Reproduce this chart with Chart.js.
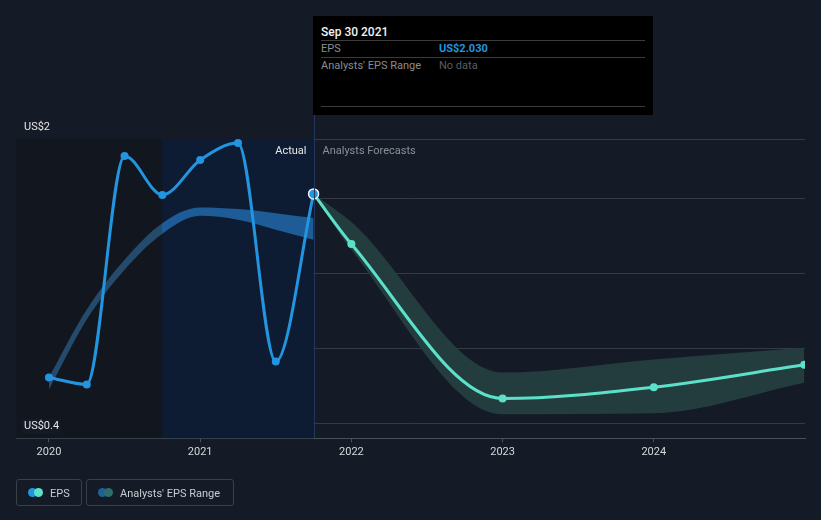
<!DOCTYPE html>
<html>
<head>
<meta charset="utf-8">
<script src="https://cdn.jsdelivr.net/npm/chart.js@4.4.1/dist/chart.umd.min.js"></script>
<style>
  html, body { margin: 0; padding: 0; background: #151b26; width: 821px; height: 520px; overflow: hidden; font-family: Roboto, "Noto Sans", sans-serif; }
  #wrap { position: relative; width: 821px; height: 520px; }
  canvas { position: absolute; left: 0; top: 0; }
  .tip { position: absolute; left: 313px; top: 16px; width: 340px; height: 99px; background: #000; }
  .tip .title { position: absolute; left: 8px; top: 16px; transform: translateY(-50%); color: #f2f2f2; font-size: 12px; font-weight: 500; white-space: nowrap; }
  .tip .hr { position: absolute; left: 8px; width: 324px; height: 1px; background: #3b3b3b; }
  .tip .lab { position: absolute; left: 8px; font-size: 11px; color: #8a8d92; white-space: nowrap; transform: translateY(-50%); }
  .tip .val { position: absolute; left: 126px; font-size: 11px; white-space: nowrap; transform: translateY(-50%); }
  .leg { position: absolute; top: 479px; height: 27px; border: 1px solid #3a404a; border-radius: 3px; box-sizing: border-box; }
  .leg .txt { position: absolute; top: 50%; transform: translateY(-50%); font-size: 11px; color: #c9ccd1; white-space: nowrap; }
  .dot { position: absolute; top: 8px; width: 9px; height: 9px; border-radius: 50%; }
</style>
</head>
<body>
<div id="wrap">
  <canvas id="c" width="821" height="520"></canvas>
  <div class="tip">
    <div class="title">Sep 30 2021</div>
    <div class="hr" style="top:24px"></div>
    <div class="lab" style="top:32px">EPS</div>
    <div class="val" style="top:32px;color:#2394df;font-weight:700">US$2.030</div>
    <div class="hr" style="top:41px"></div>
    <div class="lab" style="top:49px">Analysts' EPS Range</div>
    <div class="val" style="top:49px;color:#5a5d62">No data</div>
    <div class="hr" style="top:90px"></div>
  </div>
  <div class="leg" style="left:16px;width:66px">
    <div class="dot" style="left:11px;background:#2394df"></div>
    <div class="dot" style="left:17px;background:#5ce0c9"></div>
    <div class="txt" style="left:33px">EPS</div>
  </div>
  <div class="leg" style="left:86px;width:148px">
    <div class="dot" style="left:11px;background:#1f5f94"></div>
    <div class="dot" style="left:17px;background:#2f6d6b"></div>
    <div class="txt" style="left:33px">Analysts' EPS Range</div>
  </div>
</div>
<script>
// ---- data ----
const actualDates = [2020.0, 2020.25, 2020.5, 2020.75, 2021.0, 2021.25, 2021.5, 2021.75];
const actualEps   = [0.726, 0.676, 2.299, 2.023, 2.271, 2.391, 0.839, 2.030];
const pastRangeHigh = [0.726, 1.208, 1.562, 1.822, 1.933, 1.922, 1.893, 1.858];
const pastRangeLow  = [0.641, 1.137, 1.491, 1.747, 1.874, 1.846, 1.775, 1.704];

const forecastDates = [2021.75, 2022.0, 2023.0, 2024.0, 2024.995];
const forecastEps   = [2.030, 1.674, 0.577, 0.657, 0.816];
const forecastHigh  = [2.030, 1.830, 0.761, 0.854, 0.937];
const forecastLow   = [2.030, 1.633, 0.464, 0.471, 0.688];

const xTickYears = [2020, 2021, 2022, 2023, 2024];
const yGridValues = [0.4, 0.9315, 1.463, 1.994, 2.42];
const yLabels = [{ value: 2.42, text: 'US$2', pos: 'above' }, { value: 0.4, text: 'US$0.4', pos: 'on' }];
const xMin = 2019.782, xMax = 2025.0;
const yMin = 0.2937, yMax = 2.42;
const lastYearStart = 2020.75, forecastStart = 2021.75;

const pts = (xs, ys) => xs.map((x, i) => ({ x, y: ys[i] }));

const bgPlugin = {
  id: 'bgPlugin',
  beforeDatasetsDraw(chart) {
    const { ctx, chartArea: a, scales: { x } } = chart;
    ctx.save();
    const x1 = x.getPixelForValue(lastYearStart);
    const x2 = x.getPixelForValue(forecastStart);
    ctx.fillStyle = '#12171f';
    ctx.fillRect(a.left, a.top, x1 - a.left, a.bottom - a.top);
    ctx.fillStyle = '#0d1c32';
    ctx.fillRect(x1, a.top, x2 - x1, a.bottom - a.top);
    ctx.restore();
  },
  beforeDraw(chart) {
    const { ctx } = chart;
    ctx.save();
    ctx.fillStyle = '#151b26';
    ctx.fillRect(0, 0, chart.width, chart.height);
    ctx.restore();
  },
  afterDraw(chart) {
    const { ctx, chartArea: a, scales: { x, y } } = chart;
    ctx.save();
    const x2 = Math.round(x.getPixelForValue(forecastStart)) + 0.5;
    ctx.strokeStyle = '#22375a';
    ctx.lineWidth = 1;
    ctx.beginPath(); ctx.moveTo(x2, 115); ctx.lineTo(x2, a.bottom); ctx.stroke();
    ctx.font = '11px Roboto';
    ctx.textBaseline = 'middle';
    ctx.textAlign = 'right';
    ctx.fillStyle = '#e8e8e8';
    ctx.fillText('Actual', x2 - 8, a.top + 12.5);
    ctx.textAlign = 'left';
    ctx.fillStyle = '#8b8f96';
    ctx.fillText('Analysts Forecasts', x2 + 8, a.top + 12.5);
    ctx.font = '11px Roboto';
    yLabels.forEach(l => {
      const py = y.getPixelForValue(l.value);
      const ty = l.pos === 'above' ? py - 12 : py + 3;
      const w = ctx.measureText(l.text).width;
      if (l.pos === 'on') {
        ctx.fillStyle = '#151b26';
        ctx.fillRect(a.left + 6, ty - 7, w + 4, 14);
      }
      ctx.fillStyle = '#e4e4e4';
      ctx.textAlign = 'left';
      ctx.fillText(l.text, a.left + 8, ty);
    });
    ctx.restore();
  }
};

function pastBandColor(context) {
  const chart = context.chart;
  const a = chart.chartArea;
  if (!a) return '#1d5c96';
  const x = chart.scales.x;
  const p = (x.getPixelForValue(lastYearStart) - a.left) / (a.right - a.left);
  const g = chart.ctx.createLinearGradient(a.left, 0, a.right, 0);
  g.addColorStop(0, '#244a6c');
  g.addColorStop(Math.max(0, p - 0.0001), '#244a6c');
  g.addColorStop(p, '#1d5c96');
  g.addColorStop(1, '#1d5c96');
  return g;
}

new Chart(document.getElementById('c'), {
  type: 'line',
  data: {
    datasets: [
      { label: 'pastHigh', data: pts(actualDates, pastRangeHigh), borderWidth: 0, pointRadius: 0, cubicInterpolationMode: 'monotone', fill: false, order: 5, borderColor: 'rgba(0,0,0,0)' },
      { label: 'pastLow', data: pts(actualDates, pastRangeLow), borderWidth: 0, pointRadius: 0, cubicInterpolationMode: 'monotone', fill: '-1', backgroundColor: pastBandColor, order: 5, borderColor: 'rgba(0,0,0,0)' },
      { label: 'fcHigh', data: pts(forecastDates, forecastHigh), borderWidth: 0, pointRadius: 0, cubicInterpolationMode: 'monotone', fill: false, order: 4, borderColor: 'rgba(0,0,0,0)' },
      { label: 'fcLow', data: pts(forecastDates, forecastLow), borderWidth: 0, pointRadius: 0, cubicInterpolationMode: 'monotone', fill: '-1', backgroundColor: '#233d3f', order: 4, borderColor: 'rgba(0,0,0,0)' },
      { label: 'forecast', data: pts(forecastDates, forecastEps), borderColor: '#5ce0c9', backgroundColor: '#5ce0c9', borderWidth: 3, cubicInterpolationMode: 'monotone',
        pointRadius: forecastDates.map((d, i) => i === 0 ? 0 : 4), pointBorderWidth: 0, fill: false, order: 2 },
      { label: 'EPS', data: pts(actualDates, actualEps), borderColor: '#2394df', backgroundColor: '#2394df', borderWidth: 3, cubicInterpolationMode: 'monotone',
        pointRadius: actualDates.map((d, i) => i === actualDates.length - 1 ? 5 : 4),
        pointBorderWidth: actualDates.map((d, i) => i === actualDates.length - 1 ? 1.5 : 0),
        pointBorderColor: actualDates.map((d, i) => i === actualDates.length - 1 ? '#e6f2fb' : '#2394df'),
        fill: false, order: 1 }
    ]
  },
  options: {
    responsive: false,
    animation: false,
    devicePixelRatio: 1,
    events: [],
    layout: { padding: { left: 16, right: 16, top: 139, bottom: 58.5 } },
    plugins: { legend: { display: false }, tooltip: { enabled: false } },
    scales: {
      x: {
        type: 'linear', min: xMin, max: xMax,
        afterBuildTicks: s => { s.ticks = xTickYears.map(v => ({ value: v })); },
        ticks: { color: '#d5d8dc', font: { family: 'Roboto', size: 11 }, padding: 3, maxRotation: 0, autoSkip: false, callback: v => String(v) },
        grid: { drawOnChartArea: false, drawTicks: true, tickLength: 4, color: '#4a505a' },
        border: { color: '#4a505a' }
      },
      y: {
        min: yMin, max: yMax,
        afterBuildTicks: s => { s.ticks = yGridValues.map(v => ({ value: v })); },
        ticks: { display: false },
        grid: { color: '#353b45', drawTicks: false },
        border: { display: false }
      }
    }
  },
  plugins: [bgPlugin]
});
</script>
</body>
</html>
